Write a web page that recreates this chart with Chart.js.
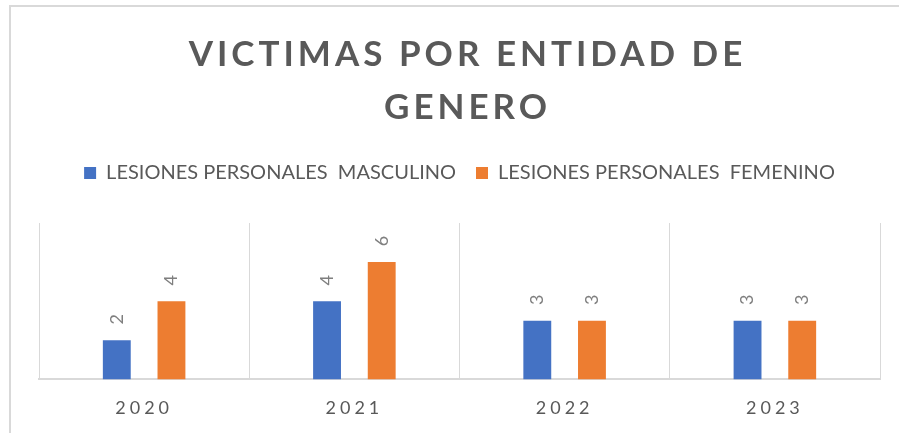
<!DOCTYPE html>
<html>
<head>
<meta charset="utf-8">
<script src="https://cdn.jsdelivr.net/npm/chart.js@4.4.1/dist/chart.umd.min.js"></script>
<style>
  body { margin: 0; background: #ffffff; }
  #chart-wrap { width: 899px; height: 433px; }
</style>
</head>
<body>
<div id="chart-wrap">
  <canvas id="barChart" width="899" height="433"></canvas>
</div>
<script>
const titleLines = ['VICTIMAS POR ENTIDAD DE', 'GENERO'];
const years = ['2020', '2021', '2022', '2023'];
const seriesNames = ['LESIONES PERSONALES  MASCULINO', 'LESIONES PERSONALES  FEMENINO'];
const masculino = [2, 4, 3, 3];
const femenino = [4, 6, 3, 3];
const seriesColors = ['#4472C4', '#ED7D31'];

const FONT = 'Lato, "Open Sans", sans-serif';
const GRAY = '#595959';

// frame + white background, letter spacing reset
const framePlugin = {
  id: 'frame',
  beforeDraw(chart) {
    const ctx = chart.ctx;
    ctx.save();
    ctx.fillStyle = '#ffffff';
    ctx.fillRect(0, 0, chart.width, chart.height);
    ctx.strokeStyle = '#d9d9d9';
    ctx.lineWidth = 2;
    ctx.strokeRect(10, 6, chart.width + 20, chart.height + 20);
    ctx.restore();
    ctx.letterSpacing = '0px';
  }
};

// rotated value labels above each bar, then spacing for the x tick labels
const valueLabels = {
  id: 'valueLabels',
  afterDatasetsDraw(chart) {
    const ctx = chart.ctx;
    ctx.save();
    ctx.letterSpacing = '0px';
    ctx.font = '18px ' + FONT;
    ctx.fillStyle = '#7f7f7f';
    ctx.textAlign = 'center';
    ctx.textBaseline = 'middle';
    chart.data.datasets.forEach((ds, i) => {
      chart.getDatasetMeta(i).data.forEach((bar, j) => {
        ctx.save();
        ctx.translate(bar.x, bar.y - 21);
        ctx.rotate(-Math.PI / 2);
        ctx.fillText(String(ds.data[j]), 0, 0);
        ctx.restore();
      });
    });
    ctx.restore();
    ctx.letterSpacing = '4px';
  },
  afterDraw(chart) {
    const ctx = chart.ctx;
    ctx.save();
    ctx.letterSpacing = '4px';
    ctx.font = 'bold 35px ' + FONT;
    ctx.fillStyle = GRAY;
    ctx.textAlign = 'center';
    ctx.textBaseline = 'alphabetic';
    const cx = (chart.chartArea.left + chart.chartArea.right) / 2 + 8;
    titleLines.forEach((line, i) => ctx.fillText(line, cx, 66 + i * 53));
    ctx.restore();
    ctx.letterSpacing = '0px';
  }
};

new Chart(document.getElementById('barChart').getContext('2d'), {
  type: 'bar',
  data: {
    labels: years,
    datasets: [
      { label: seriesNames[0], data: masculino, backgroundColor: seriesColors[0] },
      { label: seriesNames[1], data: femenino, backgroundColor: seriesColors[1] }
    ]
  },
  options: {
    responsive: false,
    animation: false,
    categoryPercentage: 0.52,
    barPercentage: 0.51,
    layout: { padding: { top: 143, left: 39, right: 19, bottom: 4 } },
    plugins: {
      tooltip: { enabled: false },
      legend: {
        position: 'top',
        labels: {
          boxWidth: 12,
          boxHeight: 12,
          padding: 20,
          color: GRAY,
          font: { family: FONT, size: 20 }
        }
      },
      subtitle: {
        display: true,
        text: '',
        weight: 500,
        font: { size: 10 },
        padding: { top: 0, bottom: 18 }
      }
    },
    scales: {
      x: {
        grid: { color: '#d9d9d9', drawTicks: true, tickLength: 8, tickColor: 'rgba(0,0,0,0)' },
        border: { color: '#d9d9d9', width: 2 },
        ticks: { z: 1, color: GRAY, padding: 10, font: { family: FONT, size: 18 } }
      },
      y: { display: false, min: 0, max: 8 }
    }
  },
  plugins: [framePlugin, valueLabels]
});
</script>
</body>
</html>
